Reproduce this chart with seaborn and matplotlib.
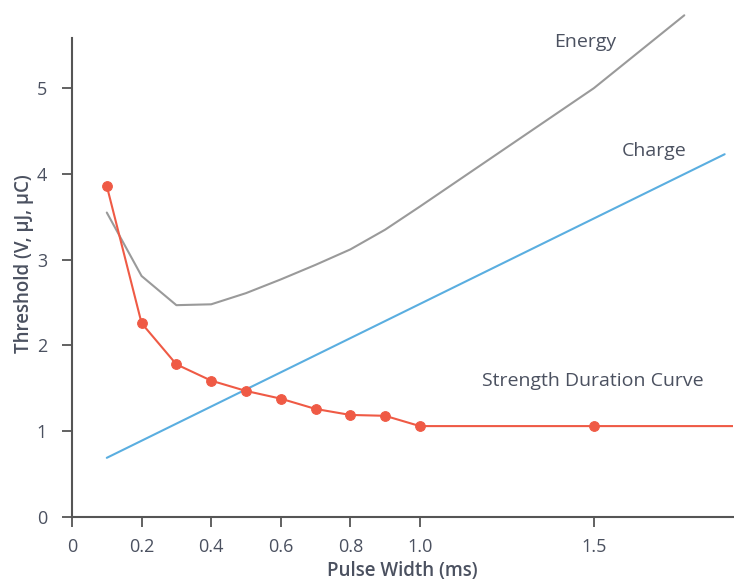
import matplotlib
matplotlib.use("Agg")
import matplotlib.pyplot as plt
import seaborn as sns
import pandas as pd

# Strength duration curve (V)
sd_pw = [0.1, 0.2, 0.3, 0.4, 0.5, 0.6, 0.7, 0.8, 0.9, 1.0, 1.5, 2.0]
sd_val = [3.86, 2.26, 1.78, 1.59, 1.47, 1.38, 1.26, 1.19, 1.18, 1.06, 1.06, 1.06]
sd_marked = [True, True, True, True, True, True, True, True, True, True, True, False]

# Energy (uJ)
en_pw = [0.1, 0.2, 0.3, 0.4, 0.5, 0.6, 0.7, 0.8, 0.9, 1.0, 1.5, 1.76]
en_val = [3.55, 2.81, 2.47, 2.48, 2.61, 2.77, 2.94, 3.12, 3.35, 3.62, 5.0, 5.85]

# Charge (uC)
ch_pw = [0.1, 1.876]
ch_val = [0.69, 4.23]

xticks = [0, 0.2, 0.4, 0.6, 0.8, 1.0, 1.5]
xticklabels = ["0", "0.2", "0.4", "0.6", "0.8", "1.0", "1.5"]
yticks = [0, 1, 2, 3, 4, 5]

RED = "#ef5a45"
GRAY = "#9a9a9a"
BLUE = "#5aaee0"
TXT = "#4b5160"
AX = "#555555"

sns.set_theme(style="white")
plt.rcParams["font.family"] = ["Open Sans", "DejaVu Sans"]

fig = plt.figure(figsize=(7.34, 5.84), dpi=100)
ax = fig.add_axes([72 / 734, 1 - 517 / 584, 661 / 734, (517 - 11) / 584])

sd_df = pd.DataFrame({"pw": sd_pw, "v": sd_val})
en_df = pd.DataFrame({"pw": en_pw, "v": en_val})
ch_df = pd.DataFrame({"pw": ch_pw, "v": ch_val})

sns.lineplot(data=en_df, x="pw", y="v", ax=ax, color=GRAY, linewidth=1.5, clip_on=False)
sns.lineplot(data=ch_df, x="pw", y="v", ax=ax, color=BLUE, linewidth=1.5)
mark_idx = [i for i, m in enumerate(sd_marked) if m]
sns.lineplot(data=sd_df, x="pw", y="v", ax=ax, color=RED, linewidth=1.5,
             marker="o", markersize=7, markeredgecolor=RED, markevery=mark_idx)

ax.set_xlim(0, 1.9)
ax.set_ylim(0, 5.9)
ax.set_xticks(xticks)
ax.set_xticklabels(xticklabels)
ax.set_yticks(yticks)

for s in ["top", "right"]:
    ax.spines[s].set_visible(False)
ax.spines["left"].set_bounds(0, 5.58)
for s in ["left", "bottom"]:
    ax.spines[s].set_color(AX)
    ax.spines[s].set_linewidth(1.5)

ax.tick_params(axis="both", which="major", direction="out", length=7, width=1.3,
               color=AX, labelcolor=TXT, labelsize=13, left=True, bottom=True)
ax.tick_params(axis="y", pad=11)
ax.tick_params(axis="x", pad=8)

ax.set_xlabel("Pulse Width (ms)", fontsize=13.5, color=TXT, labelpad=4, fontweight="semibold")
ax.set_ylabel("Threshold (V, \u03bcJ, \u03bcC)", fontsize=13.5, color=TXT, labelpad=2,
              fontweight="semibold")

ax.text(1.474, 5.54, "Energy", fontsize=14, color=TXT, ha="center", va="center")
ax.text(1.672, 4.27, "Charge", fontsize=14, color=TXT, ha="center", va="center")
ax.text(1.497, 1.59, "Strength Duration Curve", fontsize=14, color=TXT, ha="center", va="center")

fig.savefig("out.png", dpi=100)
